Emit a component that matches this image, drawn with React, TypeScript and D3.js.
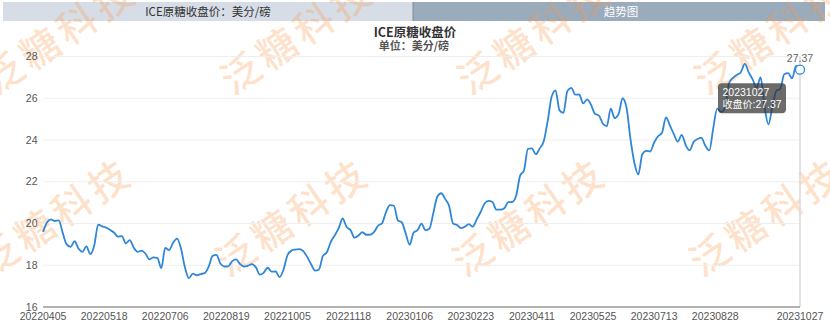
import React from "react";
import * as d3 from "d3";

// ---- data ----
const tabLabels = ["ICE原糖收盘价：美分/磅", "趋势图"];
const chartTitle = "ICE原糖收盘价";
const chartSubtitle = "单位：美分/磅";
const seriesName = "收盘价";
const xTickLabels = [
  "20220405", "20220518", "20220706", "20220819", "20221005", "20221118", "20230106",
  "20230223", "20230411", "20230525", "20230713", "20230828", "20231027",
];
const xTickDayIndex = [0, 31, 62, 93, 124, 155, 186, 217, 248, 279, 310, 341, 384];
const totalTradingDays = 385;
const sampleEvery = 2; // closes sampled every 2 trading days
const closes = [
  19.6, 20.05, 20.2, 20.12, 20.15, 19.55, 19.0, 18.88, 19.15, 18.8,
  18.64, 18.9, 18.54, 18.95, 19.95, 19.86, 19.8, 19.69, 19.57, 19.37,
  19.4, 19.05, 19.2, 18.85, 18.64, 18.7, 18.55, 18.28, 18.38, 18.35,
  17.86, 18.83, 18.73, 19.08, 19.28, 18.8, 17.9, 17.38, 17.6, 17.52,
  17.58, 17.62, 17.92, 18.45, 18.5, 18.08, 17.94, 17.95, 18.2, 18.28,
  18.05, 17.94, 17.98, 18.05, 17.9, 17.55, 17.65, 17.88, 17.69, 17.7,
  17.43, 17.79, 18.48, 18.7, 18.75, 18.77, 18.68, 18.4, 18.05, 17.74,
  17.8, 18.45, 18.62, 19.12, 19.43, 19.78, 20.24, 19.83, 19.69, 19.32,
  19.43, 19.58, 19.46, 19.47, 19.6, 19.9, 20.01, 20.55, 20.88, 20.85,
  20.15, 20.05, 19.52, 18.98, 19.57, 19.68, 19.99, 19.68, 19.75, 20.5,
  21.28, 21.45, 21.18, 20.84, 20.0, 19.93, 19.78, 19.85, 19.97, 19.85,
  20.2, 20.55, 20.96, 21.08, 21.03, 20.66, 20.66, 20.73, 21.02, 21.03,
  21.33, 22.28, 22.55, 23.58, 23.6, 23.32, 23.6, 23.94, 24.9, 26.07,
  26.38, 25.42, 25.3, 26.35, 26.5, 26.17, 26.18, 25.75, 25.95, 25.68,
  25.25, 25.17, 24.78, 24.66, 25.5, 25.05, 25.25, 26.0, 25.55, 24.05,
  22.9, 22.35, 23.32, 23.48, 23.45, 23.88, 24.18, 24.35, 25.08, 24.7,
  24.28, 23.92, 24.25, 23.76, 23.5, 23.9, 24.05, 24.1, 23.72, 23.5,
  24.57, 25.5, 25.35, 25.55, 26.72, 26.98, 27.12, 27.25, 27.65, 27.24,
  26.9, 26.5, 27.0, 25.6, 24.75, 25.6, 26.35, 26.45, 27.15, 27.2,
  26.95, 27.55, 27.37,
];
const yTicks = [16, 18, 20, 22, 24, 26, 28];
const yDomain = [16, 28];
const watermarkText = "泛糖科技";

// ---- layout ----
const W = 830;
const H = 325;
const plot = { left: 43, right: 800, top: 56.5, bottom: 307 };
const lineColor = "#2f86d8";
const cjk = "'Noto Sans CJK SC', 'Noto Sans', sans-serif";
const num = "'Liberation Sans', Arial, sans-serif";

export default function App() {
  const x = d3.scaleLinear().domain([0, totalTradingDays - 1]).range([plot.left, plot.right]);
  const y = d3.scaleLinear().domain(yDomain).range([plot.bottom, plot.top]);

  const line = d3
    .line<number>()
    .x((_, i) => x(i * sampleEvery))
    .y((d) => y(d))
    .curve(d3.curveMonotoneX);

  const lastIdx = closes.length - 1;
  const lastX = x(lastIdx * sampleEvery);
  const lastVal = closes[lastIdx];
  const lastY = y(lastVal);

  // watermark tile anchors (baseline-left of first glyph)
  const wmTop = [0, 1, 2, 3].map((k) => [-4.5 + 237 * k, 96]);
  const wmBottom = [0, 1, 2, 3].map((k) => [-9.5 + 237 * k, 278]);
  const wmAnchors = [...wmTop, ...wmBottom];

  return (
    <div style={{ width: W, height: H }}>
      <style>{`body{margin:0;}`}</style>
      <svg width={W} height={H} style={{ display: "block" }}>
        <rect x={0} y={0} width={W} height={H} fill="#fff" />
        {/* tabs */}
        <rect x={3} y={2} width={410} height={19} fill="#d6dde6" />
        <rect x={413} y={2} width={412} height={19} fill="#9aabbb" />
        <line x1={413} x2={413} y1={2} y2={21} stroke="#7d8c9a" strokeWidth={1} />
        <text x={208} y={15.5} textAnchor="middle" fontFamily={cjk} fontSize={11.5} fill="#333">
          {tabLabels[0]}
        </text>
        <text x={621} y={15.5} textAnchor="middle" fontFamily={cjk} fontSize={11.5} fill="#fff">
          {tabLabels[1]}
        </text>

        {/* watermark */}
        <g pointerEvents="none">
          {wmAnchors.map(([ax, ay]) => (
            <text
              key={`${ax}-${ay}`}
              transform={`translate(${ax}, ${ay}) rotate(-34)`}
              fontFamily={cjk}
              fontSize={39}
              fontWeight={500}
              letterSpacing={5}
              fill="rgba(250,150,70,0.28)"
            >
              {watermarkText}
            </text>
          ))}
        </g>

        {/* title */}
        <text x={415} y={37} textAnchor="middle" fontFamily={cjk} fontSize={12.5} fontWeight="bold" fill="#333">
          {chartTitle}
        </text>
        <text x={414} y={50} textAnchor="middle" fontFamily={cjk} fontSize={11} fontWeight="bold" fill="#555">
          {chartSubtitle}
        </text>

        {/* grid + y labels */}
        {yTicks.map((t) => (
          <g key={t}>
            {t !== yDomain[0] && (
              <line x1={plot.left} x2={plot.right} y1={y(t)} y2={y(t)} stroke="#eeeeee" strokeWidth={1} />
            )}
            <text x={37.5} y={y(t)} dy="0.35em" textAnchor="end" fontFamily={num} fontSize={10.5} fill="#555">
              {t}
            </text>
          </g>
        ))}

        {/* axis pointer */}
        <line x1={lastX} x2={lastX} y1={plot.top} y2={plot.bottom} stroke="#d8d8d8" strokeWidth={1.5} />

        {/* x axis */}
        <line x1={plot.left} x2={plot.right} y1={plot.bottom} y2={plot.bottom} stroke="#999" strokeWidth={1.5} />
        {xTickLabels.map((lab, i) => (
          <text key={lab} x={x(xTickDayIndex[i])} y={320} textAnchor="middle" fontFamily={num} fontSize={10.5} fill="#555">
            {lab}
          </text>
        ))}

        {/* series */}
        <path d={line(closes) || ""} fill="none" stroke={lineColor} strokeWidth={1.8} strokeLinejoin="round" />
        <circle cx={lastX} cy={lastY} r={4.5} fill="#fff" stroke={lineColor} strokeWidth={1.3} />
        <text x={lastX} y={lastY - 8} textAnchor="middle" fontFamily={num} fontSize={10.5} fill="#666">
          {lastVal.toFixed(2)}
        </text>

        {/* tooltip */}
        <g transform={`translate(${lastX - 82}, ${lastY + 13.5})`}>
          <rect x={0} y={0} width={68} height={30} rx={4} fill="rgba(50,50,50,0.72)" />
          <text x={4.5} y={12.5} fontFamily={num} fontSize={10.5} fill="#fff">
            {xTickLabels[xTickLabels.length - 1]}
          </text>
          <text x={4.5} y={25} fontFamily={cjk} fontSize={10} fill="#fff">
            {seriesName}
            <tspan fontFamily={num} fontSize={10.5}>{`:${lastVal.toFixed(2)}`}</tspan>
          </text>
        </g>
      </svg>
    </div>
  );
}
